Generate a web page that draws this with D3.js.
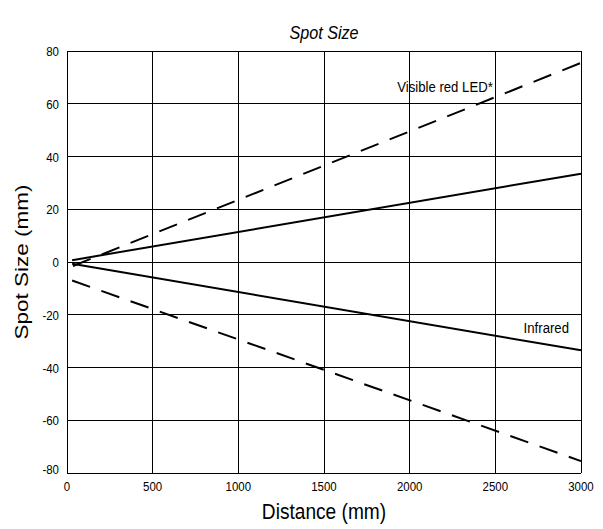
<!DOCTYPE html>
<html>
<head>
<meta charset="utf-8">
<script src="https://cdn.jsdelivr.net/npm/d3@7"></script>
<style>
  body { margin: 0; background: #fff; }
  text { font-family: "Liberation Sans", Arial, sans-serif; fill: #000; }
</style>
</head>
<body>
<script>
// tick values
const xTicks = [0, 500, 1000, 1500, 2000, 2500, 3000];
const yTicks = [-80, -60, -40, -20, 0, 20, 40, 60, 80];

// series: [distance, spot size]
const infraredUpper = [[30, 0.7], [3000, 33.5]];
const infraredLower = [[30, -0.7], [3000, -33.5]];
const visibleUpper = [[35, -1.5], [3000, 75.5]];
const visibleLower = [[30, -7], [3000, -75.5]];

const W = 603, H = 529;
const m = {left: 67, right: 22, top: 51, bottom: 56};
const SX = 0.85; // the original picture is squeezed horizontally

const svg = d3.select("body").append("svg").attr("width", W).attr("height", H);

const x = d3.scaleLinear().domain([0, 3000]).range([m.left, W - m.right]);
const y = d3.scaleLinear().domain([-80, 80]).range([H - m.bottom, m.top]);

function label(tx, ty, size, anchor, str, italic) {
  svg.append("g").attr("transform", `translate(${tx},${ty}) scale(${SX},1)`)
    .append("text").attr("font-size", size).attr("text-anchor", anchor)
    .attr("font-style", italic ? "italic" : null).text(str);
}

// grid
svg.append("g").selectAll("line").data(xTicks).join("line")
  .attr("x1", d => x(d)).attr("x2", d => x(d))
  .attr("y1", y(-80)).attr("y2", y(80))
  .attr("stroke", "#000").attr("stroke-width", 1).attr("shape-rendering", "crispEdges");
svg.append("g").selectAll("line").data(yTicks).join("line")
  .attr("x1", x(0)).attr("x2", x(3000))
  .attr("y1", d => y(d)).attr("y2", d => y(d))
  .attr("stroke", "#000").attr("stroke-width", 1).attr("shape-rendering", "crispEdges");

// tick labels
xTicks.forEach(d => label(x(d), y(-80) + 18, 13.5, "middle", d));
yTicks.forEach(d => label(x(0) - 8, y(d) + (d === -80 ? 1 : 5), 13.5, "end", d));

// lines
const line = d3.line().x(d => x(d[0])).y(d => y(d[1]));
[infraredUpper, infraredLower].forEach(s => {
  svg.append("path").attr("d", line(s)).attr("fill", "none")
    .attr("stroke", "#000").attr("stroke-width", 2);
});
[visibleUpper, visibleLower].forEach(s => {
  svg.append("path").attr("d", line(s)).attr("fill", "none")
    .attr("stroke", "#000").attr("stroke-width", 2)
    .attr("stroke-dasharray", "19,12");
});

// annotations
label(445, y(64.5), 15.5, "middle", "Visible red LED*");
label(569, y(-27), 15.5, "end", "Infrared");

// titles
label(x(1500), 39, 19, "middle", "Spot Size", true);
label(x(1500), H - 10, 22.5, "middle", "Distance (mm)");
svg.append("g").attr("transform", `translate(28,${y(0)}) rotate(-90) scale(1,${SX})`)
  .append("text").attr("font-size", 22.5).attr("text-anchor", "middle").text("Spot Size (mm)");
</script>
</body>
</html>
